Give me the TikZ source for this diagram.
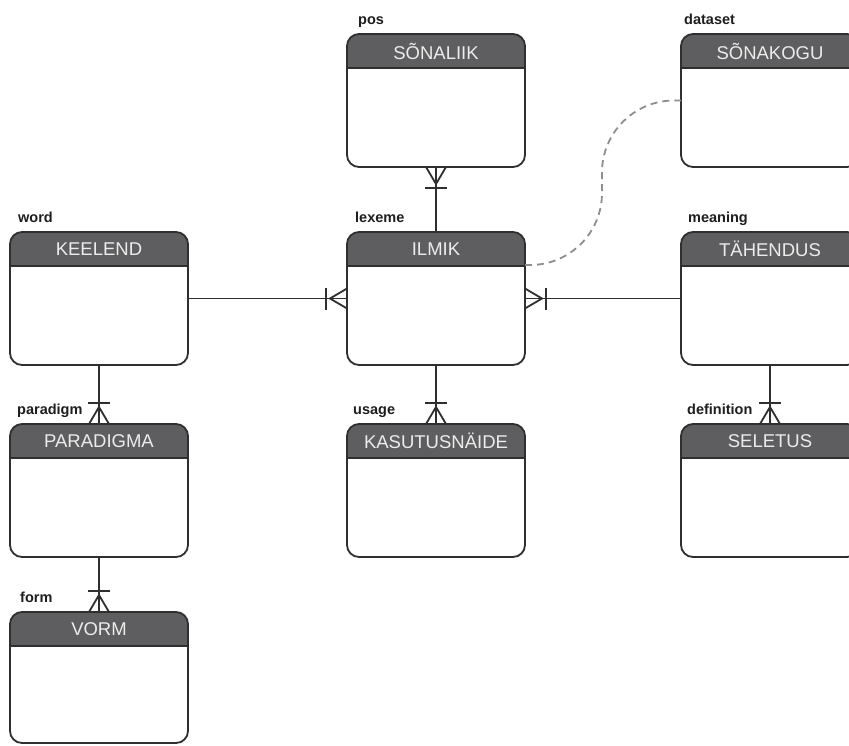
\documentclass[tikz,border=0pt]{standalone}
\usepackage{fontspec}
\setmainfont{Liberation Sans}
\usetikzlibrary{calc}
\definecolor{hdr}{HTML}{5E5E60}
\definecolor{edgec}{HTML}{2F2F2F}
\definecolor{dashc}{HTML}{8E8E8E}
\definecolor{hdrtxt}{HTML}{ECECEC}
\definecolor{lblc}{HTML}{1E1E1E}
\tikzset{
  erbody/.style={rectangle, draw=edgec, line width=1.8pt, rounded corners=12pt,
    minimum width=178pt, minimum height=#1, inner sep=0pt, outer sep=0pt},
  erbody/.default=133pt,
  hdrtext/.style={text=hdrtxt, font=\fontsize{18.5}{20}\selectfont, inner sep=0pt},
  lbl/.style={text=lblc, font=\bfseries\fontsize{14.5}{16}\selectfont, inner sep=0pt},
  conn/.style={draw=edgec, line width=1.8pt},
  dashedlink/.style={draw=dashc, line width=1.8pt, dash pattern=on 7pt off 5pt}
}
\newcommand{\erbox}[7]{% name, x, y, title, label, label x offset, height
  \begin{scope}
    \clip[rounded corners=12pt] (#2,-#3) rectangle ++(178,-#7);
    \fill[hdr] (#2,-#3) rectangle ++(178,-34);
  \end{scope}
  \node[erbody=#7pt, anchor=north west] (#1) at (#2,-#3) {};
  \draw[conn] (#2,-#3-34) -- ++(178,0);
  \node[hdrtext] (#1-t) at (#2+89,-#3-17) {#4};
  \node[lbl, anchor=base west] (#1-l) at (#2+#6,-#3+10) {#5};
}
\newcommand{\crowft}[2]{%
  \begin{scope}[shift={(#1)}, rotate=#2]
    \draw[conn] (0,10) -- (17,0) -- (0,-10);
    \draw[conn] (21,-11) -- (21,11);
  \end{scope}}
\begin{document}
\begin{tikzpicture}[x=1pt,y=1pt]
\useasboundingbox (0,0) rectangle (849,-745);
\clip (0,0) rectangle (849,-745);
\fill[white] (0,0) rectangle (849,-745);

\erbox{sonaliik}{347}{34}{SÕNALIIK}{pos}{11}{133}
\erbox{sonakogu}{681}{34}{SÕNAKOGU}{dataset}{3}{133}
\erbox{keelend}{10}{232}{KEELEND}{word}{8}{133}
\erbox{ilmik}{347}{232}{ILMIK}{lexeme}{8}{133}
\erbox{tahendus}{681}{232}{TÄHENDUS}{meaning}{7}{133}
\erbox{paradigma}{10}{424}{PARADIGMA}{paradigm}{7}{133}
\erbox{kasutus}{347}{424}{KASUTUSNÄIDE}{usage}{6}{133}
\erbox{seletus}{681}{424}{SELETUS}{definition}{6}{133}
\erbox{vorm}{10}{612}{VORM}{form}{10}{131}

% connectors
\draw[conn] (keelend.east) -- (ilmik.west);
\draw[conn] (tahendus.west) -- (ilmik.east);
\draw[conn] (ilmik.north) -- (sonaliik.south);
\draw[conn] (ilmik.south) -- (kasutus.north);
\draw[conn] (keelend.south) -- (paradigma.north);
\draw[conn] (paradigma.south) -- (vorm.north);
\draw[conn] (tahendus.south) -- (seletus.north);

\crowft{ilmik.west}{180}
\crowft{ilmik.east}{0}
\crowft{sonaliik.south}{-90}
\crowft{kasutus.north}{90}
\crowft{paradigma.north}{90}
\crowft{vorm.north}{90}
\crowft{seletus.north}{90}

% dashed link
\coordinate (ds) at ($(ilmik.north east)+(0,-33)$);
\draw[dashedlink, rounded corners=72pt] (ds) -| ($(sonakogu.west)+(-79,0)$) -- (sonakogu.west);
\end{tikzpicture}
\end{document}
